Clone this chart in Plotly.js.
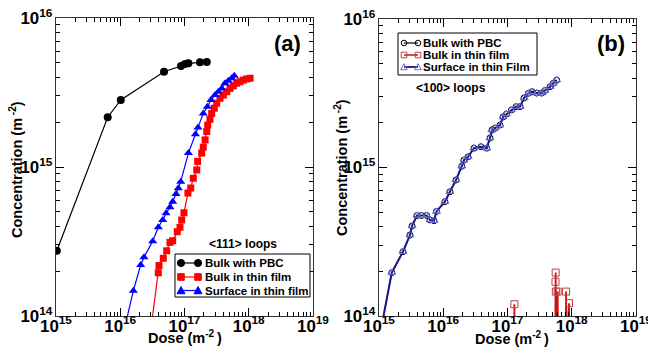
<!DOCTYPE html>
<html>
<head>
<meta charset="utf-8">
<script src="https://cdn.plot.ly/plotly-3.0.1.min.js"></script>
<style>html,body{margin:0;padding:0;background:#fff;}#chart{width:648px;height:354px;}</style>
</head>
<body>
<div id="chart"></div>
<script>
// ---------- Panel (a): <111> loops ----------
const a_bulkPBC_dose = [1.03e15, 6.38e15, 1.02e16, 4.80e16, 8.83e16, 1.02e17, 1.15e17, 1.74e17, 2.22e17];
const a_bulkPBC_conc = [2.74e14, 2.16e15, 2.82e15, 4.36e15, 4.76e15, 4.91e15, 4.96e15, 5.04e15, 5.07e15];

const a_bulkFilm_dose = [2.99e16, 3.91e16, 4.01e16, 4.68e16, 5.28e16, 5.94e16, 6.55e16, 7.72e16, 8.51e16, 9.04e16,
  9.82e16, 1.13e17, 1.25e17, 1.37e17, 1.55e17, 1.60e17, 1.85e17, 1.96e17, 2.09e17, 2.22e17,
  2.30e17, 2.49e17, 2.65e17, 2.91e17, 3.17e17, 3.57e17, 4.02e17, 4.54e17, 5.11e17, 5.75e17,
  6.49e17, 7.31e17, 8.23e17, 9.29e17, 1.05e18];
const a_bulkFilm_conc = [8.05e13, 1.95e14, 2.18e14, 2.44e14, 2.74e14, 3.12e14, 3.20e14, 3.68e14, 3.94e14, 4.41e14,
  4.93e14, 6.69e14, 7.23e14, 8.40e14, 9.55e14, 1.09e15, 1.24e15, 1.36e15, 1.52e15, 1.73e15,
  1.91e15, 2.09e15, 2.29e15, 2.48e15, 2.68e15, 2.89e15, 3.04e15, 3.20e15, 3.37e15, 3.50e15,
  3.65e15, 3.74e15, 3.83e15, 3.90e15, 3.94e15];

const a_surfFilm_dose = [1.15e16, 1.60e16, 2.08e16, 2.34e16, 3.20e16, 3.91e16, 4.58e16, 5.16e16, 5.94e16, 6.55e16,
  7.38e16, 8.00e16, 8.73e16, 1.15e17, 1.48e17, 1.62e17, 1.96e17, 2.27e17, 2.58e17, 2.98e17,
  3.36e17, 3.79e17, 4.27e17, 4.81e17, 5.43e17, 5.96e17];
const a_surfFilm_conc = [8.05e13, 1.48e14, 2.20e14, 2.48e14, 3.18e14, 3.94e14, 4.41e14, 4.89e14, 5.37e14, 5.85e14,
  6.59e14, 7.20e14, 7.97e14, 1.24e15, 1.66e15, 1.84e15, 2.29e15, 2.54e15, 2.82e15, 3.04e15,
  3.20e15, 3.37e15, 3.65e15, 3.79e15, 3.94e15, 4.10e15];

// ---------- Panel (b): <100> loops ----------
const b_bulkPBC_dose = [1.07e15, 1.58e15, 2.36e15, 3.03e15, 3.27e15, 3.90e15, 4.58e15, 5.52e15, 6.22e15, 7.18e15,
  7.85e15, 1.06e16, 1.27e16, 1.58e16, 1.94e16, 2.10e16, 2.43e16, 3.01e16, 3.87e16, 4.75e16,
  5.34e16, 5.74e16, 6.38e16, 7.64e16, 8.51e16, 9.64e16, 1.15e17, 1.36e17, 1.57e17, 1.81e17,
  2.11e17, 2.41e17, 2.85e17, 3.40e17, 3.83e17, 4.59e17, 5.16e17, 5.83e17];
const b_bulkPBC_conc = [8.05e13, 1.96e14, 2.71e14, 3.51e14, 4.04e14, 4.75e14, 4.75e14, 4.75e14, 4.43e14, 4.38e14,
  5.06e14, 5.89e14, 6.87e14, 8.24e14, 1.02e15, 1.12e15, 1.18e15, 1.35e15, 1.38e15, 1.35e15,
  1.58e15, 1.79e15, 1.84e15, 1.93e15, 2.19e15, 2.29e15, 2.44e15, 2.57e15, 2.57e15, 2.94e15,
  3.16e15, 3.24e15, 3.17e15, 3.17e15, 3.30e15, 3.50e15, 3.69e15, 3.88e15];

const b_bulkFilm_dose = [1.26e17, 1.28e17, 1.30e17, null, 5.50e17, 5.58e17, 5.62e17, 5.66e17, 5.72e17, 6.04e17, 6.10e17, null, 8.00e17, 8.15e17, 8.40e17, 9.06e17, 9.20e17];
const b_bulkFilm_conc = [5e13, 1.20e14, 5e13, null, 5e13, 1.70e14, 1.96e14, 1.46e14, 5e13, 1.46e14, 5e13, null, 5e13, 1.46e14, 5e13, 1.22e14, 5e13];

const b_surfFilm_dose = [1.07e15, 1.58e15, 2.36e15, 3.03e15, 3.27e15, 3.90e15, 4.58e15, 5.52e15, 6.22e15, 7.18e15,
  7.85e15, 1.06e16, 1.27e16, 1.58e16, 1.94e16, 2.10e16, 2.43e16, 3.01e16, 3.87e16, 4.75e16,
  5.34e16, 5.74e16, 6.38e16, 7.64e16, 8.51e16, 9.64e16, 1.15e17, 1.36e17, 1.57e17, 1.81e17,
  2.11e17, 2.41e17, 2.85e17, 3.40e17, 3.83e17, 4.59e17, 5.16e17, 5.83e17];
const b_surfFilm_conc = [8.05e13, 1.96e14, 2.71e14, 3.51e14, 4.04e14, 4.75e14, 4.75e14, 4.75e14, 4.43e14, 4.38e14,
  5.06e14, 5.89e14, 6.87e14, 8.24e14, 1.02e15, 1.12e15, 1.18e15, 1.35e15, 1.38e15, 1.35e15,
  1.58e15, 1.79e15, 1.84e15, 1.93e15, 2.19e15, 2.29e15, 2.44e15, 2.57e15, 2.57e15, 2.94e15,
  3.16e15, 3.24e15, 3.17e15, 3.17e15, 3.30e15, 3.50e15, 3.69e15, 3.88e15];

const namesA = ["Bulk with PBC", "Bulk in thin film", "Surface in thin film"];
const namesB = ["Bulk with PBC", "Bulk in thin film", "Surface in thin Film"];
const panelLabels = ["(a)", "(b)"];
const loopLabels = ["&lt;111&gt; loops", "&lt;100&gt; loops"];
const xTitle = "Dose (m<sup>-2 </sup>)";
const yTitle = "Concentration (m<sup> -2</sup>)";

const FONT = "Liberation Sans, Arial, Helvetica, sans-serif";
const W = 648, H = 354;
const px = v => v / W, py = v => 1 - v / H;

const colA = {pbc: '#000000', bulk: '#ff0000', surf: '#0000ff'};
const colB = {pbc: '#000000', bulk: '#d01010', bulkMk: '#c04040', surf: '#1a1a8c', surfMk: '#6a6ad8'};

const traces = [
  {x: a_bulkPBC_dose, y: a_bulkPBC_conc, name: namesA[0], xaxis: 'x', yaxis: 'y',
   mode: 'lines+markers', line: {color: colA.pbc, width: 1.2}, marker: {symbol: 'circle', size: 8, color: colA.pbc}},
  {x: a_bulkFilm_dose, y: a_bulkFilm_conc, name: namesA[1], xaxis: 'x', yaxis: 'y',
   mode: 'lines+markers', line: {color: colA.bulk, width: 1.2}, marker: {symbol: 'square', size: 7, color: colA.bulk}},
  {x: a_surfFilm_dose, y: a_surfFilm_conc, name: namesA[2], xaxis: 'x', yaxis: 'y',
   mode: 'lines+markers', line: {color: colA.surf, width: 1.2}, marker: {symbol: 'triangle-up', size: 8, color: colA.surf}},

  {x: b_bulkPBC_dose, y: b_bulkPBC_conc, name: namesB[0], xaxis: 'x2', yaxis: 'y2',
   mode: 'lines+markers', line: {color: colB.pbc, width: 1.2}, marker: {symbol: 'circle-open', size: 6, color: colB.pbc, line: {width: 1}}},
  {x: b_bulkFilm_dose, y: b_bulkFilm_conc, name: namesB[1], xaxis: 'x2', yaxis: 'y2', connectgaps: false,
   mode: 'lines+markers', line: {color: colB.bulk, width: 1.8}, marker: {symbol: 'square-open', size: 7, color: colB.bulkMk, line: {width: 1}}},
  {x: b_surfFilm_dose, y: b_surfFilm_conc, name: namesB[2], xaxis: 'x2', yaxis: 'y2',
   mode: 'lines+markers', line: {color: colB.surf, width: 2}, marker: {symbol: 'triangle-up-open', size: 7, color: colB.surfMk, line: {width: 1}}}
];

function baseAxis(range, domain, anchor, isX) {
  return {
    type: 'log', range: range, domain: domain, anchor: anchor,
    dtick: 1, exponentformat: 'power', showexponent: 'all',
    ticks: 'inside', ticklen: 8, tickwidth: 1, tickcolor: '#000',
    minor: {ticks: 'inside', ticklen: 4, tickwidth: 1, dtick: 'D1', tickcolor: '#000', showgrid: false},
    showline: true, linecolor: '#333', linewidth: 1, mirror: 'allticks',
    showgrid: false, zeroline: false, ticklabeloverflow: 'allow',
    ticklabelstandoff: isX ? -5 : 0,
    tickfont: {family: FONT, size: 13.5, color: '#000', weight: 'bold'},
    title: {text: ''}, automargin: false
  };
}

// ---------- manual legends (shapes + annotations) ----------
const shapes = [];
const annotations = [];
function lgBox(x0, y0, x1, y1) {
  shapes.push({type: 'rect', xref: 'paper', yref: 'paper', x0: px(x0), x1: px(x1), y0: py(y0), y1: py(y1),
    line: {color: '#000', width: 1}, fillcolor: '#fff', layer: 'above'});
}
function lgMarker(kind, cx, cy, r, color, filled) {
  const fill = filled ? color : 'rgba(0,0,0,0)';
  const ln = {color: color, width: 1};
  if (kind === 'circle') {
    shapes.push({type: 'circle', xref: 'paper', yref: 'paper', x0: px(cx - r), x1: px(cx + r), y0: py(cy + r), y1: py(cy - r), line: ln, fillcolor: fill, layer: 'above'});
  } else if (kind === 'square') {
    shapes.push({type: 'rect', xref: 'paper', yref: 'paper', x0: px(cx - r), x1: px(cx + r), y0: py(cy + r), y1: py(cy - r), line: ln, fillcolor: fill, layer: 'above'});
  } else {
    const p = 'M ' + px(cx - r * 1.1) + ' ' + py(cy + r * 0.9) + ' L ' + px(cx + r * 1.1) + ' ' + py(cy + r * 0.9) +
      ' L ' + px(cx) + ' ' + py(cy - r * 1.1) + ' Z';
    shapes.push({type: 'path', xref: 'paper', yref: 'paper', path: p, line: ln, fillcolor: fill, layer: 'above'});
  }
}
function lgEntry(x0, x1, y, kind, lineColor, mkColor, filled, r, lw, text, tx, fs) {
  shapes.push({type: 'line', xref: 'paper', yref: 'paper', x0: px(x0), x1: px(x1), y0: py(y), y1: py(y),
    line: {color: lineColor, width: lw}, layer: 'above'});
  lgMarker(kind, x0, y, r, mkColor, filled);
  lgMarker(kind, x1, y, r, mkColor, filled);
  annotations.push({text: text, xref: 'paper', yref: 'paper', x: px(tx), y: py(y), xanchor: 'left', yanchor: 'middle',
    showarrow: false, font: {family: FONT, size: fs, color: '#000', weight: 'bold'}});
}

// legend (a)
lgBox(175, 254, 310, 297);
lgEntry(181, 198, 263, 'circle', colA.pbc, colA.pbc, true, 3.6, 1.2, namesA[0], 203, 11.5);
lgEntry(181, 198, 277, 'square', colA.bulk, colA.bulk, true, 3.3, 1.2, namesA[1], 203, 11.5);
lgEntry(181, 198, 290.5, 'triangle', colA.surf, colA.surf, true, 3.6, 1.2, namesA[2], 203, 11.5);
// legend (b)
lgBox(398, 33, 537, 75);
lgEntry(404, 418, 43, 'circle', colB.pbc, colB.pbc, false, 2.8, 1.2, namesB[0], 421, 11.5);
lgEntry(404, 418, 55, 'square', colB.bulk, colB.bulkMk, false, 2.8, 1.5, namesB[1], 421, 11.5);
lgEntry(404, 418, 67, 'triangle', colB.surf, colB.surfMk, false, 3.0, 1.8, namesB[2], 421, 11.5);

function note(text, x, y, size, angle) {
  annotations.push({text: text, xref: 'paper', yref: 'paper', x: px(x), y: py(y), xanchor: 'center', yanchor: 'middle',
    textangle: angle || 0, showarrow: false, font: {family: FONT, size: size, color: '#000', weight: 'bold'}});
}
note(xTitle, 185, 337, 14.5);
note(xTitle, 512, 338, 14.5);
note(yTitle, 16, 170, 14.5, -90);
note(yTitle, 341, 168, 14.5, -90);
note(panelLabels[0], 287, 43, 22);
note(panelLabels[1], 611, 44, 22);
note(loopLabels[0], 243, 244, 12);
note(loopLabels[1], 451, 88, 12);

const layout = {
  width: W, height: H,
  margin: {l: 0, r: 0, t: 0, b: 0},
  paper_bgcolor: '#fff', plot_bgcolor: '#fff',
  showlegend: false,
  xaxis: baseAxis([15, 19], [px(56), px(313)], 'y', true),
  yaxis: baseAxis([14, 16], [py(316), py(18)], 'x', false),
  xaxis2: baseAxis([15, 19], [px(379), px(636)], 'y2', true),
  yaxis2: baseAxis([14, 16], [py(316), py(19)], 'x2', false),
  shapes: shapes,
  annotations: annotations
};

Plotly.newPlot('chart', traces, layout, {staticPlot: true, displayModeBar: false});
</script>
</body>
</html>
